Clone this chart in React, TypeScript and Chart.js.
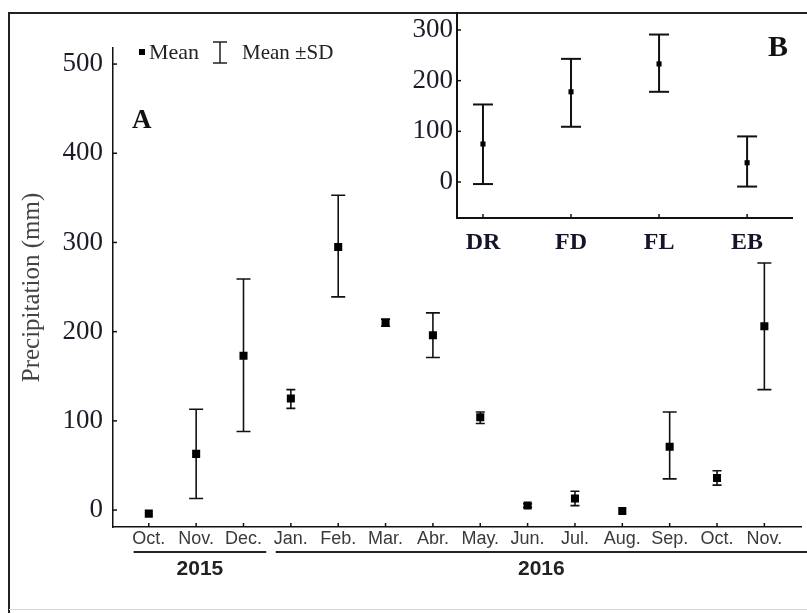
import React, { useEffect, useRef } from 'react';
import { Chart, registerables } from 'chart.js';

Chart.register(...registerables);

// ---------- Panel A data ----------
const MONTHS = ['Oct.', 'Nov.', 'Dec.', 'Jan.', 'Feb.', 'Mar.', 'Abr.', 'May.', 'Jun.', 'Jul.', 'Aug.', 'Sep.', 'Oct.', 'Nov.'];
const MEAN_A = [-4, 63, 173, 125, 295, 210, 196, 104, 5, 13, -1, 71, 36, 206];
const LOW_A = [-4, 13, 88, 114, 239, 206, 171, 97, 3, 5, -2, 35, 28, 135];
const HIGH_A = [-4, 113, 259, 135, 353, 214, 221, 110, 7, 21, 0, 110, 44, 277];
const Y_TICKS_A = [0, 100, 200, 300, 400, 500];
const YEAR_LABELS = ['2015', '2016'];
const YEAR_FIRST = [0, 3];
const YEAR_LAST = [2, 13];

// ---------- Panel B data ----------
const PERIODS = ['DR', 'FD', 'FL', 'EB'];
const MEAN_B = [75, 178, 233, 38];
const LOW_B = [-4, 109, 178, -9];
const HIGH_B = [153, 243, 291, 90];
const Y_TICKS_B = [0, 100, 200, 300];

const SERIF = '"Liberation Serif", "Times New Roman", serif';
const SANS = '"Liberation Sans", Arial, sans-serif';
const INK = '#111';

function errorBarPoints(low: number[], high: number[]) {
  const pts: any[] = [];
  low.forEach((lo, i) => {
    pts.push({ x: i, y: lo }, { x: i, y: high[i] }, { x: i, y: null });
  });
  return pts;
}

function capRadius(low: number[], high: number[], big: number, small: number) {
  return (ctx: any) => {
    const raw = ctx.raw;
    if (!raw || raw.y === null || raw.y === undefined) return 0;
    const span = high[raw.x] - low[raw.x];
    return span < 3 ? 0 : span < 30 ? small : big;
  };
}

const innerTicks = {
  id: 'innerTicks',
  afterDraw(chart: any, _args: any, opts: any) {
    const { ctx, chartArea, scales } = chart;
    ctx.save();
    ctx.strokeStyle = INK;
    ctx.lineWidth = opts.width || 1.5;
    const len = opts.length || 4;
    scales.x.ticks.forEach((t: any) => {
      const px = scales.x.getPixelForValue(t.value);
      ctx.beginPath();
      ctx.moveTo(px, chartArea.bottom);
      ctx.lineTo(px, chartArea.bottom - len);
      ctx.stroke();
    });
    scales.y.ticks.forEach((t: any) => {
      const py = scales.y.getPixelForValue(t.value);
      ctx.beginPath();
      ctx.moveTo(chartArea.left, py);
      ctx.lineTo(chartArea.left + len, py);
      ctx.stroke();
    });
    ctx.restore();
  },
};

const decorA = {
  id: 'decorA',
  afterDraw(chart: any) {
    const { ctx, chartArea, scales } = chart;
    const x = scales.x;
    ctx.save();
    // outer frame
    ctx.strokeStyle = '#222';
    ctx.lineWidth = 2;
    ctx.beginPath();
    ctx.moveTo(9, chart.height);
    ctx.lineTo(9, 13);
    ctx.lineTo(chart.width, 13);
    ctx.stroke();
    ctx.strokeStyle = '#d8d8d8';
    ctx.lineWidth = 1;
    ctx.beginPath();
    ctx.moveTo(9, 609.5);
    ctx.lineTo(chart.width, 609.5);
    ctx.stroke();

    // year groups
    YEAR_LABELS.forEach((label, k) => {
      const x0 = x.getPixelForValue(YEAR_FIRST[k] - 0.32);
      const x1 = k === YEAR_LABELS.length - 1 ? chart.width : x.getPixelForValue(YEAR_LAST[k] + 0.48);
      const ly = chartArea.bottom + 25;
      ctx.strokeStyle = '#222';
      ctx.lineWidth = 2;
      ctx.beginPath();
      ctx.moveTo(x0, ly);
      ctx.lineTo(x1, ly);
      ctx.stroke();
      ctx.font = `bold 21px ${SANS}`;
      ctx.fillStyle = '#222';
      ctx.textAlign = 'center';
      ctx.textBaseline = 'middle';
      ctx.fillText(label, (x0 + x1) / 2, chartArea.bottom + 42);
    });

    // legend
    ctx.fillStyle = '#000';
    ctx.fillRect(139, 49, 6, 6);
    ctx.font = `22px ${SERIF}`;
    ctx.fillStyle = '#222';
    ctx.textAlign = 'left';
    ctx.textBaseline = 'middle';
    ctx.fillText('Mean', 149, 53);
    ctx.strokeStyle = '#222';
    ctx.lineWidth = 1.5;
    ctx.beginPath();
    ctx.moveTo(220, 42); ctx.lineTo(220, 63);
    ctx.moveTo(213, 42); ctx.lineTo(227, 42);
    ctx.moveTo(213, 63); ctx.lineTo(227, 63);
    ctx.stroke();
    ctx.font = `21px ${SERIF}`;
    ctx.fillText('Mean \u00B1SD', 242, 53);

    // panel letter
    ctx.font = `bold 27px ${SERIF}`;
    ctx.fillStyle = '#111';
    ctx.fillText('A', 132, 121);
    ctx.restore();
  },
};

const decorB = {
  id: 'decorB',
  afterDraw(chart: any) {
    const { ctx } = chart;
    ctx.save();
    ctx.font = `bold 30px ${SERIF}`;
    ctx.fillStyle = '#111';
    ctx.textAlign = 'center';
    ctx.textBaseline = 'middle';
    ctx.fillText('B', 398, 48);
    ctx.restore();
  },
};

function fixScale(size: number, horizontal: boolean) {
  return (s: any) => {
    if (horizontal) s.height = size; else s.width = size;
    s.paddingTop = 0; s.paddingBottom = 0; s.paddingLeft = 0; s.paddingRight = 0;
  };
}

function mainConfig(): any {
  return {
    type: 'scatter',
    data: {
      datasets: [
        {
          label: 'Mean',
          data: MEAN_A.map((v, i) => ({ x: i, y: v })),
          pointStyle: 'rect',
          pointRadius: 5.7,
          pointBackgroundColor: '#000',
          pointBorderWidth: 0,
          showLine: false,
        },
        {
          label: 'Mean ±SD',
          data: errorBarPoints(LOW_A, HIGH_A),
          showLine: true,
          spanGaps: false,
          borderColor: INK,
          borderWidth: 1.6,
          pointStyle: 'line',
          pointRadius: capRadius(LOW_A, HIGH_A, 7, 4.5),
          pointBorderColor: INK,
          pointBorderWidth: 1.6,
        },
      ],
    },
    options: {
      responsive: false,
      animation: false,
      events: [],
      layout: { padding: { left: 0, top: 48, right: 2, bottom: 56 } },
      plugins: {
        legend: { display: false },
        tooltip: { enabled: false },
        innerTicks: { length: 4, width: 1.5 },
      },
      scales: {
        x: {
          type: 'linear',
          min: -0.756,
          max: 13.78,
          afterBuildTicks: (s: any) => { s.ticks = MONTHS.map((_, i) => ({ value: i })); },
          afterFit: fixScale(30, true),
          grid: { display: false, drawTicks: false },
          border: { display: true, color: INK, width: 1.5 },
          ticks: {
            callback: (v: any) => MONTHS[v],
            font: { family: SANS, size: 18 },
            color: '#3a3a3a',
            padding: 1,
            autoSkip: false,
            maxRotation: 0,
            minRotation: 0,
          },
        },
        y: {
          type: 'linear',
          min: -19,
          max: 518,
          afterBuildTicks: (s: any) => { s.ticks = Y_TICKS_A.map((v) => ({ value: v })); },
          afterFit: fixScale(113, false),
          grid: { display: false, drawTicks: false },
          border: { display: true, color: INK, width: 1.5 },
          ticks: { font: { family: SERIF, size: 27 }, color: '#1c1c28', padding: 10 },
          title: {
            display: true,
            text: 'Precipitation (mm)',
            font: { family: SERIF, size: 25 },
            color: '#444',
            padding: { top: 17, bottom: 0 },
          },
        },
      },
    },
    plugins: [innerTicks, decorA],
  };
}

function insetConfig(): any {
  return {
    type: 'scatter',
    data: {
      datasets: [
        {
          label: 'Mean',
          data: MEAN_B.map((v, i) => ({ x: i, y: v })),
          pointStyle: 'rect',
          pointRadius: 3.6,
          pointBackgroundColor: '#000',
          pointBorderWidth: 0,
          showLine: false,
        },
        {
          label: 'Mean ±SD',
          data: errorBarPoints(LOW_B, HIGH_B),
          showLine: true,
          spanGaps: false,
          borderColor: INK,
          borderWidth: 2,
          pointStyle: 'line',
          pointRadius: capRadius(LOW_B, HIGH_B, 10, 10),
          pointBorderColor: INK,
          pointBorderWidth: 2,
        },
      ],
    },
    options: {
      responsive: false,
      animation: false,
      events: [],
      layout: { padding: { left: 0, top: 13, right: 15, bottom: 12 } },
      plugins: {
        legend: { display: false },
        tooltip: { enabled: false },
        innerTicks: { length: 4, width: 1.5 },
      },
      scales: {
        x: {
          type: 'linear',
          min: -0.295,
          max: 3.51,
          afterBuildTicks: (s: any) => { s.ticks = PERIODS.map((_, i) => ({ value: i })); },
          afterFit: fixScale(40, true),
          grid: { display: false, drawTicks: false },
          border: { display: true, color: INK, width: 2 },
          ticks: {
            callback: (v: any) => PERIODS[v],
            font: { family: SERIF, size: 24, weight: 'bold' },
            color: '#15152a',
            padding: 10,
            autoSkip: false,
            maxRotation: 0,
            minRotation: 0,
          },
        },
        y: {
          type: 'linear',
          min: -71,
          max: 333.5,
          afterBuildTicks: (s: any) => { s.ticks = Y_TICKS_B.map((v) => ({ value: v })); },
          afterFit: fixScale(77, false),
          grid: { display: false, drawTicks: false },
          border: { display: true, color: INK, width: 2 },
          ticks: { font: { family: SERIF, size: 27 }, color: '#1c1c28', padding: 4 },
        },
      },
    },
    plugins: [innerTicks, decorB],
  };
}

export default function App() {
  const mainRef = useRef<HTMLCanvasElement>(null);
  const insetRef = useRef<HTMLCanvasElement>(null);

  useEffect(() => {
    const main = new Chart(mainRef.current as HTMLCanvasElement, mainConfig());
    const inset = new Chart(insetRef.current as HTMLCanvasElement, insetConfig());
    return () => {
      main.destroy();
      inset.destroy();
    };
  }, []);

  return (
    <div style={{ position: 'fixed', left: 0, top: 0, width: 807, height: 613, background: '#fff', overflow: 'hidden' }}>
      <canvas ref={mainRef} width={807} height={613} style={{ position: 'absolute', left: 0, top: 0 }} />
      <canvas ref={insetRef} width={427} height={270} style={{ position: 'absolute', left: 380, top: 0 }} />
    </div>
  );
}
